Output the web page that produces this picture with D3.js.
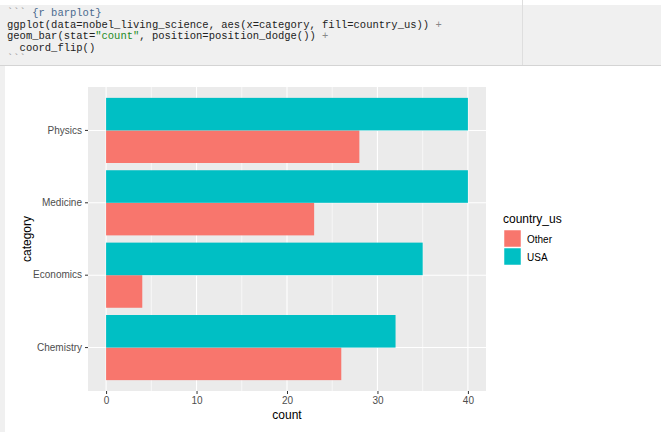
<!DOCTYPE html>
<html>
<head>
<meta charset="utf-8">
<style>
  body { margin: 0; background: #fff; }
  svg { display: block; }
  .code { font-family: 'Liberation Mono', 'DejaVu Sans Mono', monospace; font-size: 10.5px; }
  .axis text { font-family: 'Liberation Sans', Arial, sans-serif; font-size: 10px; fill: #4d4d4d; }
  .axis path { display: none; }
  .axis line { stroke: #333; stroke-width: 1; }
  .title { font-family: 'Liberation Sans', Arial, sans-serif; font-size: 12px; fill: #000; }
  .legend-label { font-family: 'Liberation Sans', Arial, sans-serif; font-size: 10px; fill: #000; }
</style>
</head>
<body>
<svg width="661" height="432"></svg>

<script src="https://d3js.org/d3.v7.min.js"></script>
<script>
// chart data
const categories = ["Chemistry", "Economics", "Medicine", "Physics"];
const groups = ["Other", "USA"];
const otherCounts = [26, 4, 23, 28];
const usaCounts = [32, 35, 40, 40];
const xTicks = [0, 10, 20, 30, 40];
const xMinor = [5, 15, 25, 35];

// the rmarkdown chunk above the plot, [text, colour] pieces per line
const codeLines = [
  [["```", "#999"], [" {r barplot}", "#4a6a8e"]],
  [["ggplot(data=nobel_living_science, aes(x=category, fill=country_us)) ", "#222"], ["+", "#888"]],
  [["geom_bar(stat=", "#222"], ["\"count\"", "#1e8a1e"], [", position=position_dodge()) ", "#222"], ["+", "#888"]],
  [["  coord_flip()", "#222"]],
  [["```", "#999"]]
];

const colors = { Other: "#F8766D", USA: "#00BFC4" };

let svg = d3.select("svg");

// ---- code block background ----
svg.append("rect").attr("x", 0).attr("y", 5).attr("width", 661).attr("height", 60).style("fill", "#f0f0f0");
svg.append("line").attr("x1", 0).attr("x2", 661).attr("y1", 65.5).attr("y2", 65.5).style("stroke", "#d4d4d4");
svg.append("line").attr("x1", 522.5).attr("x2", 522.5).attr("y1", 0).attr("y2", 65).style("stroke", "#dedede");
svg.append("rect").attr("x", 0).attr("y", 66).attr("width", 5).attr("height", 366).style("fill", "#f0f0f0");

let code = svg.append("g").attr("class", "code");
codeLines.forEach((line, i) => {
  let t = code.append("text").attr("x", 7).attr("y", 16 + i * 11.5);
  line.forEach(seg => {
    t.append("tspan").text(seg[0]).style("fill", seg[1]).attr("xml:space", "preserve");
  });
});
code.selectAll("text").style("white-space", "pre");

// ---- plot ----
let panel = { left: 88, right: 486, top: 87, bottom: 391 };

let x = d3.scaleLinear()
  .domain([-2, 42])
  .range([panel.left, panel.right]);

// reversed so Chemistry sits at the bottom like coord_flip
let y = d3.scaleBand()
  .domain(categories.slice().reverse())
  .range([panel.top, panel.bottom])
  .paddingInner(0.1)
  .paddingOuter(0.15);

let yInner = d3.scaleBand()
  .domain(["USA", "Other"])
  .range([0, y.bandwidth()]);

let rows = categories.map((c, i) => ({ category: c, Other: otherCounts[i], USA: usaCounts[i] }));

svg.append("rect")
  .attr("x", panel.left).attr("y", panel.top)
  .attr("width", panel.right - panel.left).attr("height", panel.bottom - panel.top)
  .style("fill", "#ebebeb");

// grid
svg.selectAll(".minor")
  .data(xMinor)
  .join("line")
  .attr("x1", d => x(d)).attr("x2", d => x(d))
  .attr("y1", panel.top).attr("y2", panel.bottom)
  .style("stroke", "#fff").style("stroke-width", 0.6);

svg.selectAll(".major")
  .data(xTicks)
  .join("line")
  .attr("x1", d => x(d)).attr("x2", d => x(d))
  .attr("y1", panel.top).attr("y2", panel.bottom)
  .style("stroke", "#fff").style("stroke-width", 1.1);

svg.selectAll(".hmajor")
  .data(categories)
  .join("line")
  .attr("x1", panel.left).attr("x2", panel.right)
  .attr("y1", d => y(d) + y.bandwidth() / 2).attr("y2", d => y(d) + y.bandwidth() / 2)
  .style("stroke", "#fff").style("stroke-width", 1.1);

// bars
let bars = svg.append("g")
  .selectAll("g")
  .data(rows)
  .join("g")
  .attr("transform", d => `translate(0,${y(d.category)})`);

bars.selectAll("rect")
  .data(d => groups.map(g => ({ group: g, value: d[g] })))
  .join("rect")
  .attr("x", x(0))
  .attr("y", d => yInner(d.group))
  .attr("width", d => x(d.value) - x(0))
  .attr("height", yInner.bandwidth())
  .style("fill", d => colors[d.group]);

// axes
svg.append("g")
  .attr("class", "axis")
  .attr("transform", `translate(0,${panel.bottom})`)
  .call(d3.axisBottom(x).tickValues(xTicks).tickSize(3).tickPadding(3));

svg.append("g")
  .attr("class", "axis")
  .attr("transform", `translate(${panel.left},0)`)
  .call(d3.axisLeft(y).tickSize(3).tickPadding(3));

// axis titles
svg.append("text")
  .attr("class", "title")
  .attr("x", (panel.left + panel.right) / 2)
  .attr("y", 419)
  .attr("text-anchor", "middle")
  .text("count");

svg.append("text")
  .attr("class", "title")
  .attr("transform", `translate(31,${(panel.top + panel.bottom) / 2}) rotate(-90)`)
  .attr("text-anchor", "middle")
  .text("category");

// legend
let legend = svg.append("g").attr("transform", "translate(503,0)");
legend.append("text")
  .attr("class", "title")
  .attr("x", 0).attr("y", 223)
  .text("country_us");

let keys = legend.selectAll(".key")
  .data(groups)
  .join("g")
  .attr("transform", (d, i) => `translate(0,${230 + i * 18})`);

keys.append("rect")
  .attr("x", 1).attr("y", 0)
  .attr("width", 17).attr("height", 17)
  .style("fill", d => colors[d])
  .style("stroke", "#fff").style("stroke-width", 0.5);

keys.append("text")
  .attr("class", "legend-label")
  .attr("x", 24).attr("y", 12.5)
  .text(d => d);
</script>
</body>
</html>
